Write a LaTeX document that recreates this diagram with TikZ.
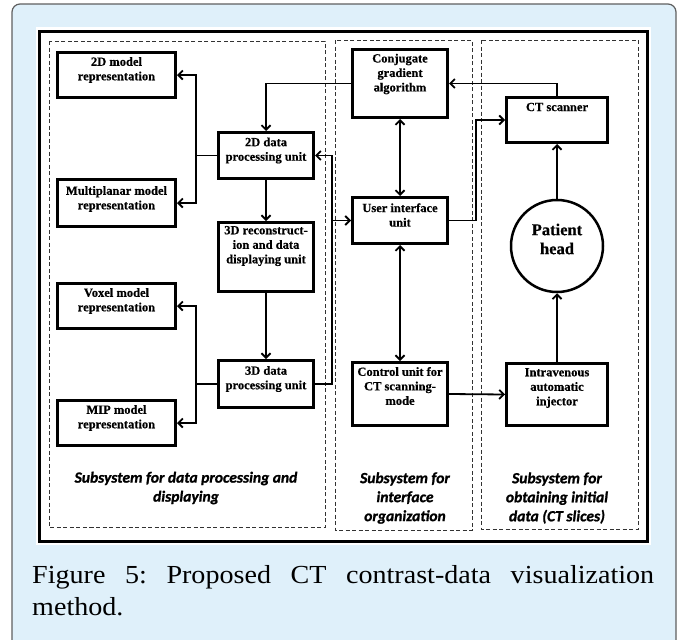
\documentclass[tikz,border=0pt]{standalone}
\usepackage{fontspec}
\setmainfont{Liberation Serif}
\newfontfamily\capfont[FakeStretch=1.08]{Liberation Serif}
\newfontfamily\boxfont[FakeBold=0.5]{Liberation Serif Bold}
\newfontfamily\subfont[FakeBold=1.2]{Carlito Bold Italic}
\frenchspacing
\usetikzlibrary{arrows.meta}
\definecolor{panelblue}{RGB}{223,240,250}
\definecolor{panelgray}{RGB}{95,95,95}
\definecolor{dashgray}{RGB}{50,50,50}
\begin{document}
\begin{tikzpicture}[x=1pt,y=-1pt,
  >={Straight Barb[length=4.5pt,width=9pt]},
  boxwh/.style 2 args={draw=black, line width=3pt, inner sep=0pt,
    minimum width=#1pt, minimum height=#2pt},
  txt/.style={font=\boxfont\fontsize{12.5}{14.5}\selectfont, align=center, inner sep=0pt},
  conn/.style={line width=1.8pt},
  group/.style={draw=dashgray, line width=1pt, dash pattern=on 4pt off 2.5pt},
  sublbl/.style={font=\subfont\fontsize{15.5}{19}\selectfont, align=center, inner sep=0pt},
  capstyle/.style={font=\capfont\fontsize{26}{32}\selectfont, text width=622pt, align=justify, inner sep=0pt}]
\useasboundingbox (0,0) rectangle (678,640);
\clip (0,0) rectangle (678,640);

% page panel and white figure area
\fill[panelblue, draw=panelgray, line width=1.2pt, rounded corners=8pt] (12,4) rectangle (676,670);
\fill[white] (36,27) rectangle (651,545);
\draw[line width=3pt] (39,31) rectangle (647,541);

% subsystem frames
\draw[group] (49,41) rectangle (325,527);
\draw[group] (335,40) rectangle (472,530);
\draw[group] (481,40) rectangle (638,529);

% data processing and displaying
\node[boxwh={118}{45}] (m2d) at (116.5,75) {};
\node[txt] (m2d-t) at (116.5,70) {2D model\\representation};
\node[boxwh={118}{47}] (mpl) at (116.5,203) {};
\node[txt] (mpl-t) at (116.5,199) {Multiplanar model\\representation};
\node[boxwh={118}{45}] (vox) at (116.5,306) {};
\node[txt] (vox-t) at (116.5,301) {Voxel model\\representation};
\node[boxwh={118}{45}] (mip) at (116.5,423) {};
\node[txt] (mip-t) at (116.5,418) {MIP model\\representation};

\node[boxwh={95}{46}] (p2d) at (266,155.5) {};
\node[txt] (p2d-t) at (266,150.5) {2D data\\processing unit};
\node[boxwh={95}{69}] (rec) at (266,257) {};
\node[txt] (rec-t) at (266,246) {3D reconstruct-\\ion and data\\displaying unit};
\node[boxwh={95}{47}] (p3d) at (266,384) {};
\node[txt] (p3d-t) at (266,379) {3D data\\processing unit};

% interface organization
\node[boxwh={95}{68}] (conj) at (400,83.5) {};
\node[txt] (conj-t) at (400,74) {Conjugate\\gradient\\algorithm};
\node[boxwh={95}{46}] (ui) at (400,220.5) {};
\node[txt] (ui-t) at (400,215) {User interface\\unit};
\node[boxwh={95}{63}] (ctl) at (400,394) {};
\node[txt] (ctl-t) at (400,386) {Control unit for\\CT scanning-\\mode};

% obtaining initial data
\node[boxwh={101}{45}] (cts) at (557,120) {};
\node[txt] (cts-t) at (557,107) {CT scanner};
\node[circle, draw=black, line width=2.5pt, minimum size=92pt, inner sep=0pt] (head) at (557,246) {};
\node[txt, font=\boxfont\fontsize{16.5}{19}\selectfont] (head-t) at (557,239) {Patient\\head};
\node[boxwh={101}{62}] (inj) at (557,394.5) {};
\node[txt] (inj-t) at (557,388) {Intravenous\\automatic\\injector};

% connectors
\draw[conn] (p2d.west) -- ++(-21,0) coordinate (j1);
\draw[conn,->] (j1) |- (m2d.east);
\draw[conn,->] (j1) |- (mpl.east);
\draw[conn] (p3d.west) -- ++(-21,0) coordinate (j2);
\draw[conn,->] (j2) |- (vox.east);
\draw[conn,->] (j2) |- (mip.east);
\draw[conn,->] (p2d.south) -- (rec.north);
\draw[conn,->] (rec.south) -- (p3d.north);
\draw[conn,->] (p3d.east) -- ++(17,0) coordinate (j3) |- (p2d.east);
\coordinate (j4) at (j3 |- ui.west);
\draw[conn,->] (j4) -- (ui.west);
\draw[conn,->] (conj.west) -| (p2d.north);
\draw[conn,<->] (conj.south) -- (ui.north);
\draw[conn,<->] (ui.south) -- (ctl.north);
\draw[conn,->] (ui.east) -- ++(27,0) coordinate (j5) |- (cts.west);
\draw[conn,->] (cts.north) |- (conj.east);
\draw[conn,->] (head.north) -- (cts.south);
\draw[conn,->] (inj.north) -- (head.south);
\draw[conn,->] (ctl.east) -- (inj.west);

% subsystem captions
\node[sublbl] (s1) at (186,488) {Subsystem for data processing and\\displaying};
\node[sublbl] (s2) at (405,498) {Subsystem for\\interface\\organization};
\node[sublbl] (s3) at (557,498) {Subsystem for\\obtaining initial\\data (CT slices)};

% figure caption
\node[capstyle, anchor=north west] (cap) at (32,565) {Figure 5: Proposed CT contrast-data visualization\linebreak method.};
\end{tikzpicture}
\end{document}
